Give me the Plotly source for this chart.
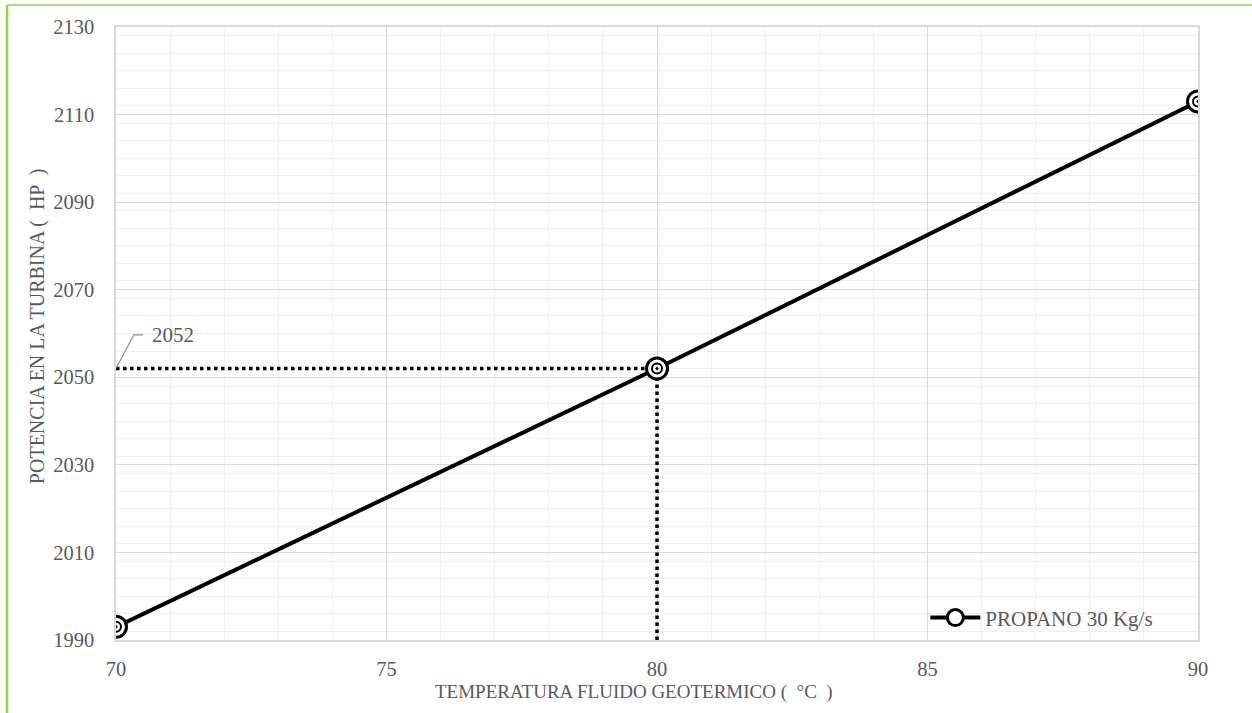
import plotly.graph_objects as go

temperatura = [70, 80, 90]
potencia = [1993, 2052, 2113]
serie_nombre = "PROPANO 30 Kg/s"
ref_x = 80
ref_y = 2052
ref_label = "2052"
x_ticks = [70, 75, 80, 85, 90]
y_ticks = [1990, 2010, 2030, 2050, 2070, 2090, 2110, 2130]
x_title = "TEMPERATURA FLUIDO GEOTERMICO (  °C  )"
y_title = "POTENCIA EN LA TURBINA (  HP  )"

font_fam = "Liberation Serif, Times New Roman, serif"
gray = "#595959"

fig = go.Figure()

# dotted reference lines
fig.add_trace(go.Scatter(x=[temperatura[0], ref_x], y=[ref_y, ref_y], mode="lines",
                         line=dict(color="black", width=3.5, dash="dot"),
                         showlegend=False, hoverinfo="skip"))
fig.add_trace(go.Scatter(x=[ref_x, ref_x], y=[y_ticks[0], ref_y], mode="lines",
                         line=dict(color="black", width=3.5, dash="dot"),
                         showlegend=False, hoverinfo="skip"))

# main series
fig.add_trace(go.Scatter(x=temperatura, y=potencia, mode="lines+markers", name=serie_nombre,
                         line=dict(color="black", width=4),
                         marker=dict(symbol="circle", size=21, color="white",
                                     line=dict(color="black", width=3))))
fig.add_trace(go.Scatter(x=temperatura, y=potencia, mode="markers", showlegend=False,
                         marker=dict(symbol="circle-dot", size=10, color="white",
                                     line=dict(color="black", width=2)),
                         hoverinfo="skip"))

# leader line for label
lx0, lx1, lx2 = 70.0, 70.33, 70.5
ly1 = 2059.7
fig.add_shape(type="path", xref="x", yref="y",
              path=f"M {lx0} {ref_y} L {lx1} {ly1} L {lx2} {ly1}",
              line=dict(color="#8c8c8c", width=1.2))
fig.add_annotation(x=70.62, y=ly1, text=ref_label, showarrow=False, xanchor="left",
                   yanchor="middle", font=dict(family=font_fam, size=21, color=gray))

# axis titles
fig.add_annotation(x=0.479, y=-0.085, xref="paper", yref="paper", text=x_title, showarrow=False,
                   xanchor="center", yanchor="middle", font=dict(family=font_fam, size=19, color=gray))
fig.add_annotation(x=-0.073, y=0.512, xref="paper", yref="paper", text=y_title, showarrow=False,
                   textangle=-90, xanchor="center", yanchor="middle",
                   font=dict(family=font_fam, size=20, color=gray))

# green border lines
fig.add_shape(type="line", xref="paper", yref="paper", x0=-0.1007, x1=-0.1007, y0=-0.13, y1=1.036,
              line=dict(color="#92d050", width=2.5))
fig.add_shape(type="line", xref="paper", yref="paper", x0=-0.1007, x1=1.06, y0=1.036, y1=1.036,
              line=dict(color="#92d050", width=1.5))

fig.update_layout(
    width=1252, height=713,
    margin=dict(l=116, r=54, t=27, b=73),
    paper_bgcolor="white", plot_bgcolor="white",
    font=dict(family=font_fam, size=20, color=gray),
    showlegend=True,
    legend=dict(x=0.748, y=0.036, xanchor="left", yanchor="middle", itemwidth=50,
                bgcolor="rgba(0,0,0,0)", font=dict(family=font_fam, size=21, color=gray)),
    xaxis=dict(range=[70, 90], tickvals=x_ticks, showline=True, linecolor="#d9d9d9", linewidth=1.5,
               mirror=True, gridcolor="#d9d9d9", gridwidth=1.2, zeroline=False,
               minor=dict(dtick=1, showgrid=True, gridcolor="#f0f0f0", gridwidth=1),
               ticks="", ticklen=0, ticklabelstandoff=10,
               tickfont=dict(family=font_fam, size=20.5, color=gray)),
    yaxis=dict(range=[1990, 2130], tickvals=y_ticks, showline=True, linecolor="#d9d9d9", linewidth=1.5,
               mirror=True, gridcolor="#d9d9d9", gridwidth=1.2, zeroline=False,
               minor=dict(dtick=4, showgrid=True, gridcolor="#f0f0f0", gridwidth=1),
               ticks="", ticklen=0, ticklabelstandoff=16,
               tickfont=dict(family=font_fam, size=20.5, color=gray)),
)

fig.write_html("out.html", config={"displayModeBar": False},
               post_script="document.body.style.margin='0px';")
